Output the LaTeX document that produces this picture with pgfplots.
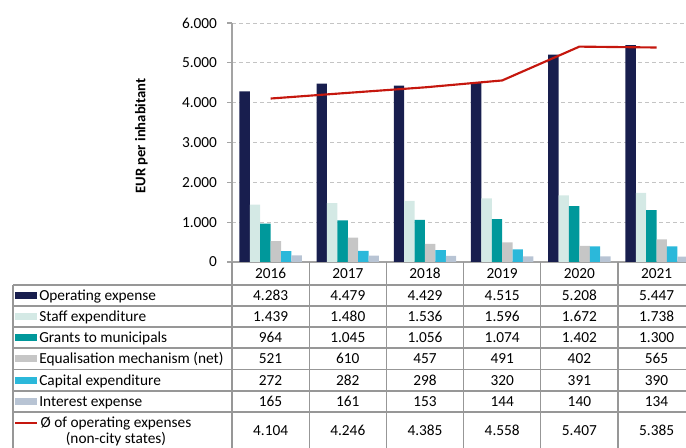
\documentclass[border=0pt]{standalone}
\usepackage{fontspec}
\setmainfont{Carlito}
\usepackage{pgfplots}
\pgfplotsset{compat=1.18}
\definecolor{cOp}{HTML}{181E4E}
\definecolor{cStaff}{HTML}{D4E9E5}
\definecolor{cGrant}{HTML}{00989B}
\definecolor{cEq}{HTML}{C6C6C6}
\definecolor{cCap}{HTML}{2BB8DA}
\definecolor{cInt}{HTML}{B8C4D4}
\definecolor{cLine}{HTML}{C5170E}
\definecolor{cAxis}{HTML}{A3A3A3}
\definecolor{cGrid}{HTML}{C4C4C4}
\definecolor{cTab}{HTML}{979797}
\newcommand\vals[7]{%
  \node[anchor=base] at (270.6,447-#1) {#2};
  \node[anchor=base] at (347.8,447-#1) {#3};
  \node[anchor=base] at (425.0,447-#1) {#4};
  \node[anchor=base] at (502.2,447-#1) {#5};
  \node[anchor=base] at (579.4,447-#1) {#6};
  \node[anchor=base] at (656.6,447-#1) {#7};}
\newcommand\leg[3]{%
  \fill[#1] (15,447-#2+3.5) rectangle (37,447-#2-3.5);
  \node[anchor=base west, inner sep=0pt] at (39,447-#2-4.8) {#3};}
\begin{document}
\begin{tikzpicture}[x=0.75pt,y=0.75pt,font=\fontsize{11.5}{13}\selectfont]
\useasboundingbox (0,0) rectangle (686,447);
\clip (0,0) rectangle (686,447);
\begin{axis}[
  at={(174pt,138.75pt)}, anchor=south west,
  scale only axis, width=340.5pt, height=179.25pt,
  xmin=-0.5, xmax=5.381, ymin=0, ymax=6000,
  axis x line*=bottom, axis y line*=left,
  x axis line style={cAxis, line width=1.5pt},
  y axis line style={cAxis, line width=1.1pt},
  xtick=\empty,
  ytick={0,1000,...,6000},
  yticklabels={0,1.000,2.000,3.000,4.000,5.000,6.000},
  tick align=outside, major tick length=3.75pt,
  ytick style={cAxis, line width=0.9pt},
  ymajorgrids,
  grid style={cGrid, dash pattern=on 3pt off 2.25pt, line width=0.75pt},
  yticklabel style={xshift=-4pt},
  ybar=0pt, bar width=7.8pt,
]
\addplot[fill=cOp, draw=none] coordinates {(0,4283) (1,4479) (2,4429) (3,4515) (4,5208) (5,5447)};
\addplot[fill=cStaff, draw=none] coordinates {(0,1439) (1,1480) (2,1536) (3,1596) (4,1672) (5,1738)};
\addplot[fill=cGrant, draw=none] coordinates {(0,964) (1,1045) (2,1056) (3,1074) (4,1402) (5,1300)};
\addplot[fill=cEq, draw=none] coordinates {(0,521) (1,610) (2,457) (3,491) (4,402) (5,565)};
\addplot[fill=cCap, draw=none] coordinates {(0,272) (1,282) (2,298) (3,320) (4,391) (5,390)};
\addplot[fill=cInt, draw=none] coordinates {(0,165) (1,161) (2,153) (3,144) (4,140) (5,134)};
\addplot[sharp plot, cLine, line width=1.6pt, mark=none, line join=round] coordinates {(0,4104) (1,4246) (2,4385) (3,4558) (4,5407) (5,5385)};
\end{axis}
\node[rotate=90, font=\bfseries\fontsize{11}{13}\selectfont] at (141.5,447-136) {EUR per inhabitant};
\begin{scope}[cTab, line width=0.9pt]
\foreach \yy in {285,306,327,348,369.5,391,412} \draw (13,447-\yy) -- (690,447-\yy);
\draw (13,447-285) -- (13,-10);
\draw (232,447-262) -- (232,-10);
\foreach \xx in {309.2,386.4,463.6,540.8,618} \draw (\xx,447-262) -- (\xx,-10);
\end{scope}
\vals{278.3}{2016}{2017}{2018}{2019}{2020}{2021}
\vals{300.3}{4.283}{4.479}{4.429}{4.515}{5.208}{5.447}
\vals{321.3}{1.439}{1.480}{1.536}{1.596}{1.672}{1.738}
\vals{342.3}{964}{1.045}{1.056}{1.074}{1.402}{1.300}
\vals{363.55}{521}{610}{457}{491}{402}{565}
\vals{385.05}{272}{282}{298}{320}{391}{390}
\vals{406.3}{165}{161}{153}{144}{140}{134}
\vals{435.8}{4.104}{4.246}{4.385}{4.558}{5.407}{5.385}
\leg{cOp}{295.5}{Operating expense}
\leg{cStaff}{316.5}{Staff expenditure}
\leg{cGrant}{337.5}{Grants to municipals}
\leg{cEq}{358.75}{Equalisation mechanism (net)}
\leg{cCap}{380.25}{Capital expenditure}
\leg{cInt}{401.5}{Interest expense}
\draw[cLine, line width=1.6pt] (15,447-422.7) -- (37,447-422.7);
\node[anchor=base, inner sep=0pt] at (116,447-427) {Ø of operating expenses};
\node[anchor=base, inner sep=0pt] at (116,447-443) {(non-city states)};
\end{tikzpicture}
\end{document}
